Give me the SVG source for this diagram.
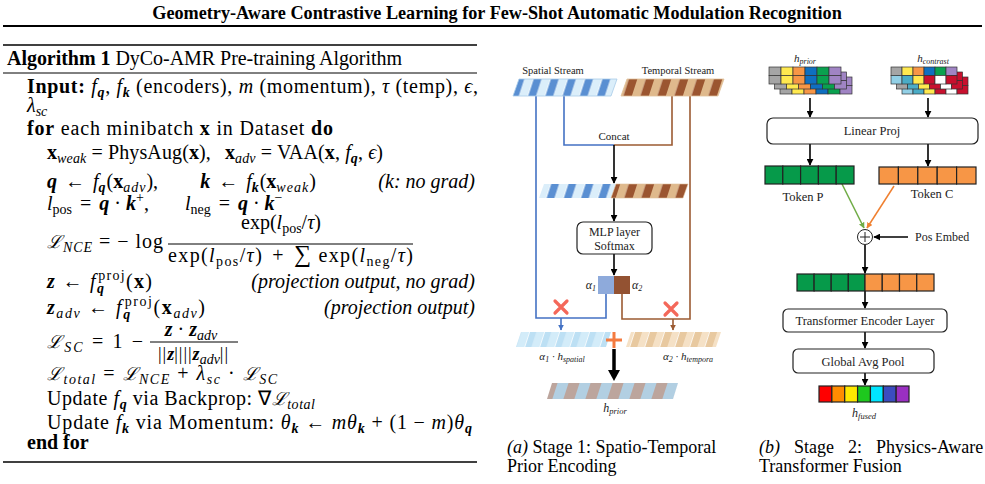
<svg xmlns="http://www.w3.org/2000/svg" width="985" height="484" viewBox="0 0 985 484">
<style>
.t{font-family:"Liberation Serif","Times New Roman",serif;fill:#000}
.a{font-size:20px}
.b{font-weight:bold}
.i{font-style:italic}
.bi{font-weight:bold;font-style:italic}
.s{font-size:14px}
.cal{font-family:"DejaVu Serif",serif;font-style:italic;font-size:18px}
.f{font-family:"Liberation Serif","Times New Roman",serif;fill:#222}
.box{fill:#fff;stroke:#222;stroke-width:1.2}
.ln{fill:none;stroke-width:1.6}
.blk{stroke:#000;fill:none;stroke-width:1.6}
.cell{stroke:#333;stroke-width:0.7}
.tok{stroke:#222;stroke-width:1.2}
.rule{stroke:#000}
</style>
<defs>
<marker id="ah" viewBox="0 0 10 10" refX="9" refY="5" markerWidth="7" markerHeight="7" markerUnits="userSpaceOnUse" orient="auto"><path d="M0,0 L10,5 L0,10 z" fill="#000"/></marker>
<marker id="ahB" viewBox="0 0 10 10" refX="9" refY="5" markerWidth="6" markerHeight="6" markerUnits="userSpaceOnUse" orient="auto"><path d="M0,0 L10,5 L0,10 z" fill="#4472c4"/></marker>
<marker id="ahR" viewBox="0 0 10 10" refX="9" refY="5" markerWidth="6" markerHeight="6" markerUnits="userSpaceOnUse" orient="auto"><path d="M0,0 L10,5 L0,10 z" fill="#9c5b32"/></marker>
<marker id="ahG" viewBox="0 0 10 10" refX="9" refY="5" markerWidth="6" markerHeight="6" markerUnits="userSpaceOnUse" orient="auto"><path d="M0,0 L10,5 L0,10 z" fill="#70ad47"/></marker>
<marker id="ahO" viewBox="0 0 10 10" refX="9" refY="5" markerWidth="6" markerHeight="6" markerUnits="userSpaceOnUse" orient="auto"><path d="M0,0 L10,5 L0,10 z" fill="#f08030"/></marker>
<pattern id="pS" patternUnits="userSpaceOnUse" width="17.2" height="40" patternTransform="skewX(-18)"><rect width="8.6" height="40" fill="#dbeefa"/><rect x="8.6" width="8.6" height="40" fill="#5a8fd2"/><rect x="8.2" width="0.8" height="40" fill="#fff"/><rect x="16.8" width="0.8" height="40" fill="#fff"/></pattern>
<pattern id="pT" patternUnits="userSpaceOnUse" width="17" height="40" patternTransform="skewX(-18)"><rect width="8.5" height="40" fill="#dfb98c"/><rect x="8.5" width="8.5" height="40" fill="#9b5530"/></pattern>
<pattern id="pSL" patternUnits="userSpaceOnUse" width="15" height="40" patternTransform="skewX(-18)"><rect width="7.5" height="40" fill="#d3ecf9"/><rect x="7.5" width="7.5" height="40" fill="#bde0f4"/><rect x="7.2" width="0.7" height="40" fill="#fff"/><rect x="14.7" width="0.7" height="40" fill="#fff"/></pattern>
<pattern id="pTL" patternUnits="userSpaceOnUse" width="15" height="40" patternTransform="skewX(-18)"><rect width="7.5" height="40" fill="#f5e1c6"/><rect x="7.5" width="7.5" height="40" fill="#e8c9a0"/><rect x="7.2" width="0.7" height="40" fill="#fff"/></pattern>
<pattern id="pP" patternUnits="userSpaceOnUse" width="22" height="40" patternTransform="skewX(-18)"><rect width="11" height="40" fill="#b2cfe2"/><rect x="11" width="11" height="40" fill="#bca59d"/></pattern>
</defs>

<!-- Title -->
<text class="t b" x="497" y="19" text-anchor="middle" style="font-size:18.2px">Geometry-Aware Contrastive Learning for Few-Shot Automatic Modulation Recognition</text>
<line class="rule" x1="3" y1="26" x2="982" y2="26" stroke-width="2"/>

<!-- Algorithm -->
<g id="algorithm">
<line class="rule" x1="3" y1="45" x2="477" y2="45" stroke-width="1.6"/>
<text class="t a" x="7" y="65" textLength="395" lengthAdjust="spacing"><tspan class="b">Algorithm 1</tspan> DyCo-AMR Pre-training Algorithm</text>
<line class="rule" x1="3" y1="73" x2="477" y2="73" stroke-width="1"/>
<text class="t a" x="27" y="93" textLength="451" lengthAdjust="spacing"><tspan class="b">Input:</tspan> <tspan class="i">f</tspan><tspan class="bi s" dy="4">q</tspan><tspan dy="-4">, </tspan><tspan class="i">f</tspan><tspan class="bi s" dy="4">k</tspan><tspan dy="-4"> (encoders), </tspan><tspan class="i">m</tspan> (momentum), <tspan class="i">τ</tspan> (temp), <tspan class="i">ϵ</tspan>,</text>
<text class="t a" x="27" y="112"><tspan class="i">λ</tspan><tspan class="i s" dy="4">sc</tspan></text>
<text class="t a" x="27" y="135" textLength="306" lengthAdjust="spacing"><tspan class="b">for</tspan> each minibatch <tspan class="b">x</tspan> in Dataset <tspan class="b">do</tspan></text>
<text class="t a" x="47" y="159" textLength="336" lengthAdjust="spacing"><tspan class="b">x</tspan><tspan class="i s" dy="4">weak</tspan><tspan dy="-4"> = PhysAug(</tspan><tspan class="b">x</tspan>),<tspan dx="14" class="b">x</tspan><tspan class="i s" dy="4">adv</tspan><tspan dy="-4"> = VAA(</tspan><tspan class="b">x</tspan>, <tspan class="i">f</tspan><tspan class="bi s" dy="4">q</tspan><tspan dy="-4">, </tspan><tspan class="i">ϵ</tspan>)</text>
<text class="t a" x="47" y="188"><tspan class="bi">q</tspan><tspan dx="8">←</tspan><tspan dx="8" class="i">f</tspan><tspan class="bi s" dy="4">q</tspan><tspan dy="-4" dx="1">(</tspan><tspan class="b">x</tspan><tspan class="i s" dy="4" letter-spacing="1">adv</tspan><tspan dy="-4">),</tspan><tspan dx="42" class="bi">k</tspan><tspan dx="8">←</tspan><tspan dx="8" class="i">f</tspan><tspan class="bi s" dy="4">k</tspan><tspan dy="-4" dx="1">(</tspan><tspan class="b">x</tspan><tspan class="i s" dy="4" letter-spacing="1">weak</tspan><tspan dy="-4">)</tspan></text>
<text class="t a i" x="475" y="188" text-anchor="end">(k: no grad)</text>
<text class="t a" x="47" y="210"><tspan class="i">l</tspan><tspan class="s" dy="4">pos</tspan><tspan dy="-4" dx="8">=</tspan><tspan dx="8" class="bi">q</tspan><tspan dx="5">·</tspan><tspan dx="5" class="bi">k</tspan><tspan class="s" dy="-8">+</tspan><tspan dy="8">,</tspan><tspan dx="36" class="i">l</tspan><tspan class="s" dy="4">neg</tspan><tspan dy="-4" dx="8">=</tspan><tspan dx="8" class="bi">q</tspan><tspan dx="5">·</tspan><tspan dx="5" class="bi">k</tspan><tspan class="s" dy="-8">−</tspan></text>
<text class="t a" x="47" y="248" textLength="116" lengthAdjust="spacing"><tspan class="cal">ℒ</tspan><tspan class="i s" dy="4">NCE</tspan><tspan dy="-4"> = − log</tspan></text>
<text class="t a" x="281" y="229" text-anchor="middle">exp(<tspan class="i">l</tspan><tspan class="s" dy="4">pos</tspan><tspan dy="-4">/</tspan><tspan class="i">τ</tspan>)</text>
<line class="rule" x1="168" y1="244" x2="413" y2="244" stroke-width="1"/>
<text class="t a" x="168" y="262" textLength="245" lengthAdjust="spacing">exp(<tspan class="i">l</tspan><tspan class="s" dy="4">pos</tspan><tspan dy="-4">/</tspan><tspan class="i">τ</tspan>)<tspan dx="9">+</tspan><tspan dx="9" style="font-size:24px">∑</tspan><tspan dx="6">exp(</tspan><tspan class="i">l</tspan><tspan class="s" dy="4">neg</tspan><tspan dy="-4">/</tspan><tspan class="i">τ</tspan>)</text>
<text class="t a" x="47" y="288" textLength="105" lengthAdjust="spacing"><tspan class="bi">z</tspan> ← <tspan class="i">f</tspan><tspan class="bi s" dy="5">q</tspan><tspan class="s" dx="-7" dy="-13">proj</tspan><tspan dy="8">(</tspan><tspan class="b">x</tspan>)</text>
<text class="t a i" x="475" y="288" text-anchor="end">(projection output, no grad)</text>
<text class="t a" x="47" y="314" textLength="158" lengthAdjust="spacing"><tspan class="bi">z</tspan><tspan class="i s" dy="4">adv</tspan><tspan dy="-4"> ← </tspan><tspan class="i">f</tspan><tspan class="bi s" dy="5">q</tspan><tspan class="s" dx="-7" dy="-13">proj</tspan><tspan dy="8">(</tspan><tspan class="b">x</tspan><tspan class="i s" dy="4">adv</tspan><tspan dy="-4">)</tspan></text>
<text class="t a i" x="475" y="314" text-anchor="end">(projection output)</text>
<text class="t a" x="47" y="348" textLength="96" lengthAdjust="spacing"><tspan class="cal">ℒ</tspan><tspan class="i s" dy="4">SC</tspan><tspan dy="-4"> = 1 −</tspan></text>
<text class="t a" x="191" y="336" text-anchor="middle"><tspan class="bi">z</tspan> · <tspan class="bi">z</tspan><tspan class="i s" dy="4">adv</tspan></text>
<line class="rule" x1="150" y1="342" x2="238" y2="342" stroke-width="1"/>
<text class="t a" x="193" y="360" text-anchor="middle" style="font-size:18px">|<tspan dx="1">|</tspan><tspan class="bi" dx="1">z</tspan>|<tspan dx="1">|</tspan><tspan dx="1">|</tspan><tspan dx="1">|</tspan><tspan class="bi" dx="1">z</tspan><tspan class="i s" dy="4">adv</tspan><tspan dy="-4">|</tspan><tspan dx="1">|</tspan></text>
<text class="t a" x="47" y="380" textLength="230" lengthAdjust="spacing"><tspan class="cal">ℒ</tspan><tspan class="i s" dy="4">total</tspan><tspan dy="-4"> = </tspan><tspan class="cal">ℒ</tspan><tspan class="i s" dy="4">NCE</tspan><tspan dy="-4"> + </tspan><tspan class="i">λ</tspan><tspan class="i s" dy="4">sc</tspan><tspan dy="-4"> · </tspan><tspan class="cal">ℒ</tspan><tspan class="i s" dy="4">SC</tspan></text>
<text class="t a" x="47" y="405" textLength="268" lengthAdjust="spacing">Update <tspan class="i">f</tspan><tspan class="bi s" dy="4">q</tspan><tspan dy="-4"> via Backprop: ∇</tspan><tspan class="cal">ℒ</tspan><tspan class="i s" dy="4">total</tspan></text>
<text class="t a" x="47" y="429" textLength="425" lengthAdjust="spacing">Update <tspan class="i">f</tspan><tspan class="bi s" dy="4">k</tspan><tspan dy="-4"> via Momentum: </tspan><tspan class="i">θ</tspan><tspan class="bi s" dy="4">k</tspan><tspan dy="-4"> ← </tspan><tspan class="i">mθ</tspan><tspan class="bi s" dy="4">k</tspan><tspan dy="-4"> + (1 − </tspan><tspan class="i">m</tspan>)<tspan class="i">θ</tspan><tspan class="bi s" dy="4">q</tspan></text>
<text class="t a b" x="27" y="449">end for</text>
<line class="rule" x1="3" y1="462" x2="477" y2="462" stroke-width="1.6"/>
</g>

<!-- Stage 1 -->
<g id="connectors-a">
<path class="ln" stroke="#4472c4" d="M536,96 V318 H606 V294"/>
<path class="ln" stroke="#4472c4" d="M561,318 V330" marker-end="url(#ahB)"/>
<path class="ln" stroke="#4472c4" d="M564,96 V145 H614"/>
<path class="ln" stroke="#9c5b32" d="M672,96 V145 H614"/>
<path class="ln" stroke="#9c5b32" d="M690,96 V319 H622 V294"/>
<path class="ln" stroke="#9c5b32" d="M673,319 V330" marker-end="url(#ahR)"/>
<path class="blk" d="M614,145 V183" marker-end="url(#ah)"/>
<path class="blk" d="M614,198 V221" marker-end="url(#ah)"/>
<path class="blk" d="M614,254 V275" marker-end="url(#ah)"/>
<path d="M614,349 V371" stroke="#000" stroke-width="3.5"/>
<path d="M608,370 L620,370 L614,381 z" fill="#000"/>
</g>
<g id="spatial-stream">
<text class="f" x="553" y="74" text-anchor="middle" font-size="10.5">Spatial Stream</text>
<polygon points="513,96 519,79 617,79 611,96" fill="url(#pS)" stroke="#a8cbe8" stroke-width="0.8"/>
</g>
<g id="temporal-stream">
<text class="f" x="678" y="74" text-anchor="middle" font-size="10.5">Temporal Stream</text>
<polygon points="621,96 627,79 724,79 718,96" fill="url(#pT)" stroke="#e0c09a" stroke-width="0.8"/>
</g>
<g id="concat">
<text class="f" x="614" y="140" text-anchor="middle" font-size="11">Concat</text>
<polygon points="539,198 544,184 616,184 611,198" fill="url(#pS)"/>
<polygon points="611,198 616,184 688,184 683,198" fill="url(#pT)" stroke="#e0c09a" stroke-width="0.6"/>
</g>
<g id="mlp">
<rect class="box" x="577" y="222" width="75" height="32" rx="6"/>
<text class="f" x="614.5" y="236" text-anchor="middle" font-size="12">MLP layer</text>
<text class="f" x="614.5" y="250" text-anchor="middle" font-size="12">Softmax</text>
</g>
<g id="alpha">
<rect x="598" y="276" width="16" height="18" fill="#8eaadb"/>
<rect x="614" y="276" width="16" height="18" fill="#935232"/>
<text class="f i" x="596" y="289" text-anchor="end" font-size="12">α<tspan font-size="8" dy="2">1</tspan></text>
<text class="f i" x="632" y="289" font-size="12">α<tspan font-size="8" dy="2">2</tspan></text>
</g>
<g id="cross-marks" stroke="#f4685a" stroke-width="3.2" stroke-linecap="round">
<path d="M555,301 L567,313 M567,301 L555,313"/>
<path d="M665,303 L677,315 M677,303 L665,315"/>
</g>
<g id="weighted-spatial">
<polygon points="516,347 521,332 611,332 606,347" fill="url(#pSL)"/>
<text class="f i" x="562" y="360" text-anchor="middle" font-size="11">α<tspan font-size="8" dy="2">1</tspan><tspan dy="-2"> · h</tspan><tspan font-size="8" dy="2">spatial</tspan></text>
</g>
<g id="plus-op" stroke="#f47b40" stroke-width="3">
<path d="M606,340 H622 M614,332 V348"/>
</g>
<g id="weighted-temporal">
<polygon points="626,347 631,332 721,332 716,347" fill="url(#pTL)"/>
<text class="f i" x="688" y="360" text-anchor="middle" font-size="11">α<tspan font-size="8" dy="2">2</tspan><tspan dy="-2"> · h</tspan><tspan font-size="8" dy="2">tempora</tspan></text>
</g>
<g id="h-prior">
<polygon points="547,399 552,383 678,383 673,399" fill="url(#pP)"/>
<text class="f i" x="615" y="412" text-anchor="middle" font-size="12">h<tspan font-size="8.5" dy="2">prior</tspan></text>
</g>

<!-- Stage 2 -->
<g id="connectors-b">
<path class="blk" d="M810,98 V117" marker-end="url(#ah)"/>
<path class="blk" d="M928,98 V117" marker-end="url(#ah)"/>
<path class="blk" d="M810,144 V165" marker-end="url(#ah)"/>
<path class="blk" d="M928,144 V166" marker-end="url(#ah)"/>
<path d="M842,184 L864,228" stroke="#70ad47" stroke-width="1.5" marker-end="url(#ahG)"/>
<path d="M894,186 L867,228" stroke="#f08030" stroke-width="1.5" marker-end="url(#ahO)"/>
<path class="blk" d="M908,237 H874" marker-end="url(#ah)"/>
<path class="blk" d="M865,245 V273" marker-end="url(#ah)"/>
<path class="blk" d="M865,274 V308" marker-end="url(#ah)"/>
<path class="blk" d="M865,332 V348" marker-end="url(#ah)"/>
<path class="blk" d="M865,373 V385" marker-end="url(#ah)"/>
</g>
<g id="h-prior-grid">
<text class="f i" x="805" y="62" text-anchor="middle" font-size="11">h<tspan font-size="8" dy="2">prior</tspan></text>
<g class="cell">
<rect x="780" y="77" width="12" height="8.5" fill="#a5a5a5"/><rect x="792" y="77" width="12" height="8.5" fill="#ffe94f"/><rect x="804" y="77" width="12" height="8.5" fill="#f79646"/><rect x="816" y="77" width="12" height="8.5" fill="#0f6fc0"/><rect x="828" y="77" width="12" height="8.5" fill="#0aa14f"/><rect x="840" y="77" width="12" height="8.5" fill="#a084c4"/>
<rect x="780" y="85.5" width="12" height="8.5" fill="#a5a5a5"/><rect x="792" y="85.5" width="12" height="8.5" fill="#ffe94f"/><rect x="804" y="85.5" width="12" height="8.5" fill="#f79646"/><rect x="816" y="85.5" width="12" height="8.5" fill="#0f6fc0"/><rect x="828" y="85.5" width="12" height="8.5" fill="#0aa14f"/><rect x="840" y="85.5" width="12" height="8.5" fill="#a084c4"/>
<rect x="774.5" y="72" width="12" height="8.5" fill="#a5a5a5"/><rect x="786.5" y="72" width="12" height="8.5" fill="#ffe94f"/><rect x="798.5" y="72" width="12" height="8.5" fill="#f79646"/><rect x="810.5" y="72" width="12" height="8.5" fill="#0f6fc0"/><rect x="822.5" y="72" width="12" height="8.5" fill="#0aa14f"/><rect x="834.5" y="72" width="12" height="8.5" fill="#a084c4"/>
<rect x="774.5" y="80.5" width="12" height="8.5" fill="#a5a5a5"/><rect x="786.5" y="80.5" width="12" height="8.5" fill="#ffe94f"/><rect x="798.5" y="80.5" width="12" height="8.5" fill="#f79646"/><rect x="810.5" y="80.5" width="12" height="8.5" fill="#0f6fc0"/><rect x="822.5" y="80.5" width="12" height="8.5" fill="#0aa14f"/><rect x="834.5" y="80.5" width="12" height="8.5" fill="#a084c4"/>
<rect x="769" y="67" width="12" height="8.5" fill="#a5a5a5"/><rect x="781" y="67" width="12" height="8.5" fill="#ffe94f"/><rect x="793" y="67" width="12" height="8.5" fill="#f79646"/><rect x="805" y="67" width="12" height="8.5" fill="#0f6fc0"/><rect x="817" y="67" width="12" height="8.5" fill="#0aa14f"/><rect x="829" y="67" width="12" height="8.5" fill="#a084c4"/>
<rect x="769" y="75.5" width="12" height="8.5" fill="#a5a5a5"/><rect x="781" y="75.5" width="12" height="8.5" fill="#ffe94f"/><rect x="793" y="75.5" width="12" height="8.5" fill="#f79646"/><rect x="805" y="75.5" width="12" height="8.5" fill="#0f6fc0"/><rect x="817" y="75.5" width="12" height="8.5" fill="#0aa14f"/><rect x="829" y="75.5" width="12" height="8.5" fill="#a084c4"/>
</g>
</g>
<g id="h-contrast-grid">
<text class="f i" x="933" y="62" text-anchor="middle" font-size="11">h<tspan font-size="8" dy="2">contrast</tspan></text>
<g class="cell">
<rect x="902" y="77" width="11" height="8.5" fill="#92d0e6"/><rect x="913" y="77" width="11" height="8.5" fill="#4aacc6"/><rect x="924" y="77" width="11" height="8.5" fill="#ffe94f"/><rect x="935" y="77" width="11" height="8.5" fill="#c8102e"/><rect x="946" y="77" width="11" height="8.5" fill="#fff"/><rect x="957" y="77" width="11" height="8.5" fill="#c8102e"/>
<rect x="902" y="85.5" width="11" height="8.5" fill="#92d0e6"/><rect x="913" y="85.5" width="11" height="8.5" fill="#4aacc6"/><rect x="924" y="85.5" width="11" height="8.5" fill="#ffe94f"/><rect x="935" y="85.5" width="11" height="8.5" fill="#c8102e"/><rect x="946" y="85.5" width="11" height="8.5" fill="#fff"/><rect x="957" y="85.5" width="11" height="8.5" fill="#c8102e"/>
<rect x="896.5" y="72" width="11" height="8.5" fill="#a5a5a5"/><rect x="907.5" y="72" width="11" height="8.5" fill="#4aacc6"/><rect x="918.5" y="72" width="11" height="8.5" fill="#ffe94f"/><rect x="929.5" y="72" width="11" height="8.5" fill="#c8102e"/><rect x="940.5" y="72" width="11" height="8.5" fill="#fff"/><rect x="951.5" y="72" width="11" height="8.5" fill="#c8102e"/>
<rect x="896.5" y="80.5" width="11" height="8.5" fill="#a5a5a5"/><rect x="907.5" y="80.5" width="11" height="8.5" fill="#4aacc6"/><rect x="918.5" y="80.5" width="11" height="8.5" fill="#ffe94f"/><rect x="929.5" y="80.5" width="11" height="8.5" fill="#c8102e"/><rect x="940.5" y="80.5" width="11" height="8.5" fill="#fff"/><rect x="951.5" y="80.5" width="11" height="8.5" fill="#c8102e"/>
<rect x="891" y="67" width="11" height="8.5" fill="#a5a5a5"/><rect x="902" y="67" width="11" height="8.5" fill="#ffe94f"/><rect x="913" y="67" width="11" height="8.5" fill="#f79646"/><rect x="924" y="67" width="11" height="8.5" fill="#0f6fc0"/><rect x="935" y="67" width="11" height="8.5" fill="#0aa14f"/><rect x="946" y="67" width="11" height="8.5" fill="#a084c4"/>
<rect x="891" y="75.5" width="11" height="8.5" fill="#92d0e6"/><rect x="902" y="75.5" width="11" height="8.5" fill="#4aacc6"/><rect x="913" y="75.5" width="11" height="8.5" fill="#ffe94f"/><rect x="924" y="75.5" width="11" height="8.5" fill="#c8102e"/><rect x="935" y="75.5" width="11" height="8.5" fill="#fff"/><rect x="946" y="75.5" width="11" height="8.5" fill="#c8102e"/>
</g>
</g>
<g id="linear-proj">
<rect class="box" x="767" y="118" width="211" height="26" rx="6"/>
<text class="f" x="872" y="135" text-anchor="middle" font-size="12.5">Linear Proj</text>
</g>
<g id="token-p">
<g class="tok" fill="#069a4a">
<rect x="765" y="166" width="17.8" height="18"/><rect x="782.8" y="166" width="17.8" height="18"/><rect x="800.6" y="166" width="17.8" height="18"/><rect x="818.4" y="166" width="17.8" height="18"/><rect x="836.2" y="166" width="17.8" height="18"/>
</g>
<text class="f" x="803" y="201" text-anchor="middle" font-size="12.5">Token P</text>
</g>
<g id="token-c">
<g class="tok" fill="#f79646">
<rect x="879" y="167" width="19.4" height="17"/><rect x="898.4" y="167" width="19.4" height="17"/><rect x="917.8" y="167" width="19.4" height="17"/><rect x="937.2" y="167" width="19.4" height="17"/><rect x="956.6" y="167" width="19.4" height="17"/>
</g>
<text class="f" x="932" y="198" text-anchor="middle" font-size="12.5">Token C</text>
</g>
<g id="pos-embed">
<circle cx="865" cy="237" r="7.5" fill="#fff" stroke="#222" stroke-width="1"/>
<path d="M860,237 H870 M865,232 V242" stroke="#222" stroke-width="1"/>
<text class="f" x="915" y="241" font-size="12">Pos Embed</text>
</g>
<g id="token-seq">
<g class="tok">
<rect x="797" y="274" width="17.1" height="17" fill="#069a4a"/><rect x="814.1" y="274" width="17.1" height="17" fill="#069a4a"/><rect x="831.2" y="274" width="17.1" height="17" fill="#069a4a"/><rect x="848.3" y="274" width="16.7" height="17" fill="#069a4a"/>
<rect x="865" y="274" width="17.25" height="17" fill="#f79646"/><rect x="882.25" y="274" width="17.25" height="17" fill="#f79646"/><rect x="899.5" y="274" width="17.25" height="17" fill="#f79646"/><rect x="916.75" y="274" width="17.25" height="17" fill="#f79646"/>
</g>
</g>
<g id="transformer">
<rect class="box" x="783" y="309" width="164" height="23" rx="5"/>
<text class="f" x="865" y="325" text-anchor="middle" font-size="12.5">Transformer Encoder Layer</text>
</g>
<g id="gap">
<rect class="box" x="793" y="349" width="141" height="24" rx="5"/>
<text class="f" x="863" y="365.5" text-anchor="middle" font-size="12.5">Global Avg Pool</text>
</g>
<g id="h-fused">
<g class="tok">
<rect x="819" y="386" width="12.86" height="16" fill="#ff0000"/><rect x="831.86" y="386" width="12.86" height="16" fill="#ff8c00"/><rect x="844.72" y="386" width="12.86" height="16" fill="#ffe800"/><rect x="857.58" y="386" width="12.86" height="16" fill="#1ec81e"/><rect x="870.44" y="386" width="12.86" height="16" fill="#00e5ff"/><rect x="883.3" y="386" width="12.86" height="16" fill="#3b4cc0"/><rect x="896.16" y="386" width="12.86" height="16" fill="#9a2fc2"/>
</g>
<text class="f i" x="864" y="417" text-anchor="middle" font-size="12">h<tspan font-size="8.5" dy="2">fused</tspan></text>
</g>

<!-- Captions -->
<text class="t" x="507" y="453" style="font-size:18px"><tspan class="i">(a)</tspan> Stage 1: Spatio-Temporal</text>
<text class="t" x="507" y="472" style="font-size:18px">Prior Encoding</text>
<text class="t" x="759" y="453" style="font-size:18px;word-spacing:9.5px"><tspan class="i">(b)</tspan> Stage 2: Physics-Aware</text>
<text class="t" x="759" y="472" style="font-size:18px">Transformer Fusion</text>
</svg>
